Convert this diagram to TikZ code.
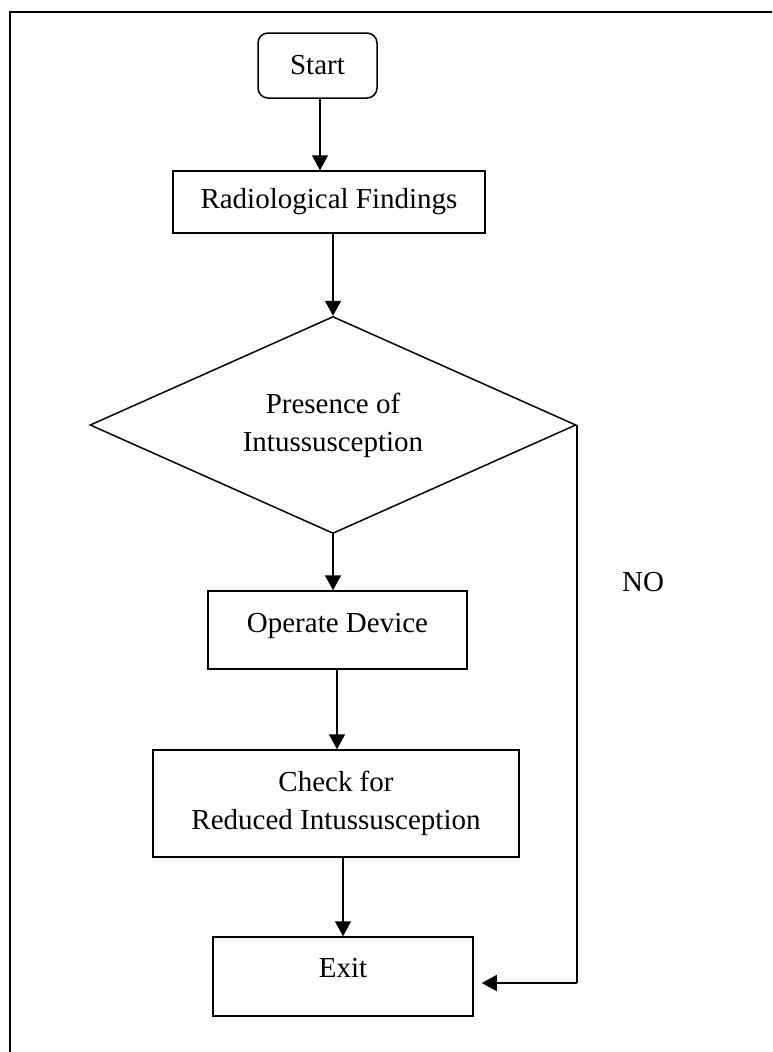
\documentclass[tikz,border=0pt]{standalone}
\usepackage{fontspec}
\setmainfont{Liberation Serif}
\usetikzlibrary{shapes.geometric,arrows.meta,calc}
\begin{document}
\begin{tikzpicture}[x=1pt,y=-1pt,
  every node/.style={font=\fontsize{29}{38}\selectfont},
  boxnode/.style={draw,line width=1.5pt,rectangle,inner sep=0pt,align=center},
  decnode/.style={draw,line width=1.5pt,diamond,aspect=2.24,inner sep=0pt,align=center},
  conn/.style={line width=1.5pt,-{Triangle[width=16pt,length=15pt]}},
  plainline/.style={line width=1.5pt}]
\useasboundingbox (0,0) rectangle (772,1052);
\clip (0,0) rectangle (772,1052);
\draw[line width=1.6pt] (10,12) rectangle (800,1080);
\node[boxnode,rounded corners=10pt,minimum width=119pt,minimum height=65pt] (start) at (317.5,65.5) {Start};
\node[boxnode,minimum width=312pt,minimum height=62pt] (radio) at (329,202) {Radiological Findings};
\node[decnode,minimum width=486pt,minimum height=217pt] (dia) at (333,425) {Presence of\\Intussusception};
\node[boxnode,minimum width=259pt,text height=41pt,text depth=37pt] (op) at (337.5,630) {Operate Device};
\node[boxnode,minimum width=366pt,minimum height=107pt] (check) at (336,803.5) {Check for\\Reduced Intussusception};
\node[boxnode,minimum width=260pt,text height=40pt,text depth=39pt] (exit) at (343,976.5) {Exit};
\node (no) at (643,582) {NO};
\coordinate (turn) at (dia.east |- 0,983);
\coordinate (exitin) at ($(exit.east |- 0,983)+(8,0)$);
\draw[conn] (start.south -| 320,0) -- (radio.north -| 320,0);
\draw[conn] (radio.south -| dia.north) -- (dia.north);
\draw[conn] (dia.south) -- (op.north -| dia.south);
\draw[conn] (op.south -| 337,0) -- (check.north -| 337,0);
\draw[conn] (check.south -| 343,0) -- (exit.north -| 343,0);
\draw[plainline] (dia.east) -- (turn);
\draw[conn] (turn) -- (exitin);
\end{tikzpicture}
\end{document}
